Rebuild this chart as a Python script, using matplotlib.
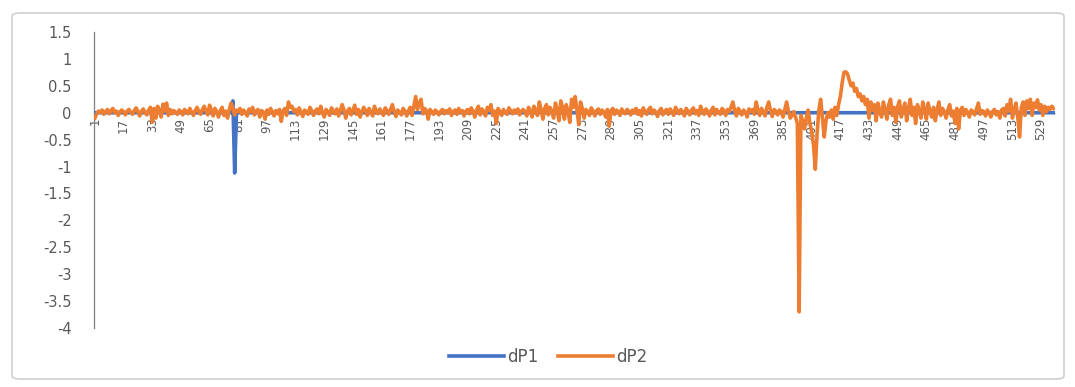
import matplotlib
matplotlib.use("Agg")
import matplotlib.pyplot as plt
from matplotlib.patches import FancyBboxPatch

# ---- data ----
n_points = 536
categories = list(range(1, n_points + 1))
tick_labels = list(range(1, 530, 16))

dP1 = [0.0] * 77 + [0.22, -1.12] + [0.0] * 457

dP2 = [
    -0.10, -0.02, 0.03, 0.01, 0.05, -0.03, 0.02, 0.06, -0.02, 0.04, 0.08, 0.00, 0.03, -0.05, 0.02, 0.05,
    0.02, -0.04, 0.03, 0.06, 0.01, -0.03, 0.04, 0.09, 0.02, -0.06, 0.03, 0.07, 0.00, -0.04, 0.05, 0.10,
    -0.18, 0.08, -0.10, 0.12, 0.05, -0.08, 0.16, 0.03, 0.18, -0.05, 0.06, -0.02, 0.04, 0.01, -0.03, 0.05,
    0.02, -0.04, 0.06, 0.03, -0.02, 0.08, 0.01, -0.05, 0.04, 0.10, 0.02, -0.03, 0.06, 0.12, 0.03, -0.04,
    0.14, 0.05, -0.06, 0.08, 0.02, -0.08, 0.04, 0.10, -0.05, 0.03, -0.10, 0.06, 0.18, 0.08, -0.04, 0.05,
    0.02, 0.08, -0.03, 0.05, 0.00, -0.06, 0.07, 0.02, 0.10, -0.04, 0.03, 0.06, -0.08, 0.04, 0.01, -0.12,
    0.05, -0.03, 0.08, 0.02, -0.06, 0.04, -0.02, 0.06, -0.16, 0.03, 0.08, -0.05, 0.20, 0.10, 0.12, 0.02,
    0.06, -0.04, 0.09, 0.01, -0.07, 0.05, 0.02, -0.03, 0.10, 0.04, -0.05, 0.03, 0.07, -0.02, 0.12, 0.00,
    -0.08, 0.06, 0.02, -0.05, 0.09, 0.03, -0.02, 0.07, -0.06, 0.04, 0.15, 0.05, -0.10, 0.03, 0.08, -0.04,
    0.05, 0.14, -0.03, 0.06, -0.08, 0.02, 0.10, 0.04, -0.05, 0.08, 0.01, -0.06, 0.12, 0.03, -0.02, 0.07,
    0.02, -0.05, 0.09, 0.04, -0.03, 0.06, 0.15, 0.02, -0.07, 0.05, 0.01, -0.04, 0.08, 0.03, -0.06, 0.04,
    0.10, -0.05, 0.12, 0.30, 0.06, 0.18, 0.25, -0.02, 0.08, 0.04, -0.12, 0.06, 0.02, -0.03, 0.05, 0.01,
    -0.04, 0.03, 0.06, -0.02, 0.04, 0.00, 0.07, -0.05, 0.02, 0.05, -0.03, 0.08, 0.01, 0.04, -0.06, 0.03,
    0.06, -0.02, 0.09, 0.03, -0.08, 0.05, 0.12, -0.04, 0.07, 0.02, -0.06, 0.10, 0.04, 0.15, -0.05, 0.03,
    -0.20, 0.08, 0.02, -0.05, 0.06, 0.01, -0.03, 0.09, 0.04, -0.02, 0.05, 0.00, 0.07, -0.04, 0.03, 0.06,
    0.02, -0.06, 0.10, 0.04, -0.08, 0.12, 0.03, -0.05, 0.20, 0.06, -0.12, 0.08, 0.15, -0.04, 0.10, 0.02,
    -0.10, 0.18, 0.05, -0.15, 0.22, 0.08, -0.12, 0.15, 0.03, -0.18, 0.25, 0.10, 0.30, 0.05, -0.22, 0.20,
    0.08, -0.10, 0.06, 0.02, -0.05, 0.09, 0.03, -0.06, 0.04, 0.07, -0.03, 0.05, 0.01, -0.08, 0.06, -0.25,
    0.04, 0.08, -0.03, 0.05, 0.02, -0.05, 0.07, 0.01, -0.02, 0.06, 0.03, -0.04, 0.05, 0.00, 0.08, -0.03,
    0.04, -0.06, 0.09, 0.02, -0.03, 0.06, 0.10, -0.02, 0.05, 0.01, -0.07, 0.04, 0.08, -0.04, 0.03, 0.06,
    -0.03, 0.07, 0.02, -0.05, 0.10, 0.04, -0.02, 0.06, 0.01, -0.06, 0.08, 0.03, -0.04, 0.05, 0.09, -0.02,
    0.04, -0.05, 0.12, 0.03, -0.03, 0.07, 0.02, -0.06, 0.05, 0.10, -0.04, 0.06, 0.01, -0.03, 0.08, 0.04,
    -0.05, 0.06, 0.02, 0.10, 0.20, 0.04, -0.06, 0.08, 0.03, -0.04, 0.05, 0.01, -0.08, 0.07, 0.02, 0.06,
    -0.03, 0.20, 0.05, -0.05, 0.08, 0.02, -0.06, 0.10, 0.20, 0.04, -0.07, 0.06, 0.03, -0.04, 0.05, 0.02,
    -0.08, 0.06, 0.20, 0.03, -0.10, -0.05, 0.02, -0.08, -0.20, -3.70, -0.05, -0.15, -0.30, -0.10, 0.05, -0.20,
    -0.35, -0.60, -1.05, -0.40, 0.05, 0.25, -0.10, -0.45, -0.15, 0.00, -0.08, 0.05, -0.12, 0.10, -0.05, 0.15,
    0.30, 0.55, 0.75, 0.76, 0.72, 0.60, 0.50, 0.55, 0.40, 0.45, 0.30, 0.35, 0.22, 0.30, 0.15, 0.25,
    -0.10, 0.20, 0.05, 0.15, -0.15, 0.18, 0.02, -0.08, 0.20, 0.06, -0.12, 0.15, 0.25, -0.05, 0.10, -0.18,
    0.12, 0.22, -0.08, 0.05, 0.18, -0.15, 0.08, 0.25, -0.05, 0.10, -0.20, 0.15, 0.04, -0.10, 0.20, 0.06,
    -0.12, 0.18, 0.02, -0.08, 0.10, -0.15, 0.06, 0.20, -0.05, 0.08, 0.02, -0.10, 0.05, 0.15, -0.06, 0.03,
    -0.20, 0.08, -0.30, 0.04, 0.10, -0.05, 0.06, 0.01, -0.08, 0.05, 0.02, -0.04, 0.07, 0.18, -0.03, 0.04,
    0.02, -0.06, 0.05, 0.00, -0.08, 0.03, 0.06, -0.04, 0.02, -0.10, 0.05, 0.08, -0.06, 0.15, 0.03, 0.25,
    -0.10, 0.05, 0.18, -0.08, -0.45, 0.10, 0.20, -0.05, 0.22, 0.08, 0.25, -0.05, 0.18, 0.10, 0.24, 0.05,
    0.15, -0.05, 0.12, 0.02, 0.10, 0.06, 0.12, 0.08,
]

y_ticks = [1.5, 1, 0.5, 0, -0.5, -1, -1.5, -2, -2.5, -3, -3.5, -4]
y_tick_labels = ["1.5", "1", "0.5", "0", "-0.5", "-1", "-1.5", "-2", "-2.5", "-3", "-3.5", "-4"]

series_names = ["dP1", "dP2"]
colors = ["#4472C4", "#ED7D31"]

# ---- figure ----
W, H, DPI = 1075, 387, 100
fig = plt.figure(figsize=(W / DPI, H / DPI), dpi=DPI, facecolor="white")

# outer chart border
border = FancyBboxPatch((12 / W, 8 / H), (1064 - 12) / W, (374 - 8) / H,
                        boxstyle="round,pad=0,rounding_size=0.008",
                        transform=fig.transFigure, facecolor="none",
                        edgecolor="#d0d0d0", linewidth=1.2, zorder=-5)
fig.patches.append(border)

left = 94 / W
right = 1054.5 / W
top = (H - 32) / H
bottom = (H - 328) / H
ax = fig.add_axes([left, bottom, right - left, top - bottom])
ax.set_facecolor("none")

ax.plot(categories, dP1, color=colors[0], lw=2.6, label=series_names[0],
        solid_joinstyle="round", zorder=3)
ax.plot(categories, dP2, color=colors[1], lw=2.6, label=series_names[1],
        solid_joinstyle="round", zorder=4)

ax.set_xlim(0.5, n_points + 0.5)
ax.set_ylim(-4, 1.5)

ax.set_yticks(y_ticks)
ax.set_yticklabels(y_tick_labels)
ax.set_xticks(tick_labels)
ax.set_xticklabels([str(t) for t in tick_labels])

for s in ["top", "right"]:
    ax.spines[s].set_visible(False)
ax.spines["left"].set_color("#7f7f7f")
ax.spines["left"].set_linewidth(0.9)
ax.spines["bottom"].set_position(("data", 0))
ax.spines["bottom"].set_color("#bfbfbf")
ax.spines["bottom"].set_linewidth(0.8)
ax.spines["bottom"].set_zorder(1)

ax.tick_params(axis="y", length=0, pad=16, labelsize=10.5, labelcolor="#595959")
ax.tick_params(axis="x", length=0, pad=3.5, labelsize=8.5, labelcolor="#595959",
               labelrotation=90)
for lbl in ax.get_xticklabels():
    lbl.set_verticalalignment("top")
    lbl.set_horizontalalignment("center")

leg = fig.legend(loc="center", bbox_to_anchor=(0.51, (H - 357) / H), ncol=2,
                 frameon=False, fontsize=12, handlelength=3.3, columnspacing=1.2,
                 handletextpad=0.2, labelcolor="#595959")
for line in leg.get_lines():
    line.set_linewidth(2.6)

fig.savefig("out.png", dpi=DPI, facecolor="white")
